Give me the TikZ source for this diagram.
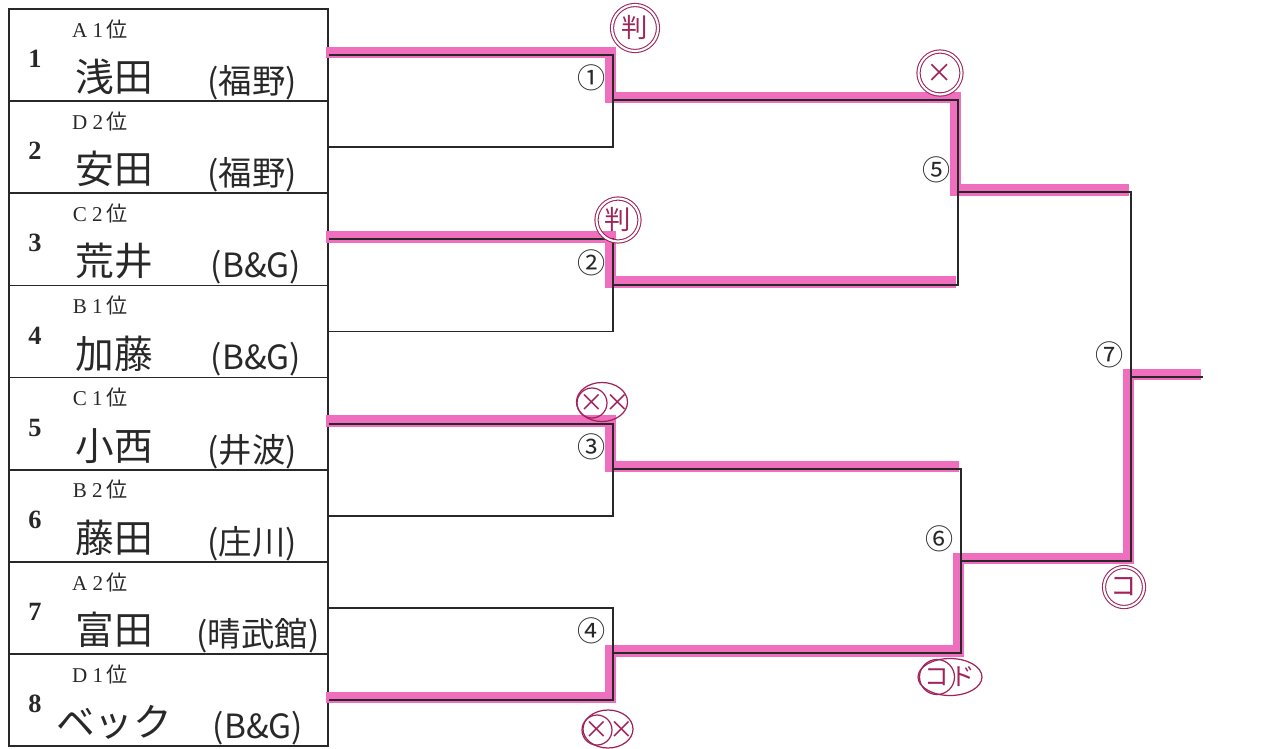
\documentclass[tikz,border=0pt]{standalone}
\usepackage{fontspec}
\setmainfont{Liberation Serif}
\newfontfamily\jp{Noto Sans CJK JP}
\usetikzlibrary{positioning,calc,shapes.geometric}
\definecolor{pen}{RGB}{40,40,40}
\definecolor{marker}{RGB}{240,110,190}
\definecolor{inkred}{RGB}{160,35,90}
\tikzset{
  player box/.style={draw=pen, line width=1pt, minimum width=6.38cm,
    minimum height=1.844cm, inner sep=0pt},
  seed/.style={font=\bfseries\fontsize{15}{15}\selectfont, text=pen},
  rank/.style={font=\fontsize{12}{12}\selectfont, text=pen, inner sep=0pt},
  entrant/.style={font=\jp\fontsize{22}{22}\selectfont, text=pen, inner sep=0pt},
  club/.style={font=\jp\fontsize{19}{19}\selectfont, text=pen, inner sep=0pt},
  bracket/.style={draw=pen, line width=1.1pt},
  winner/.style={draw=marker, line width=6.5pt,
    transform canvas={shift={(-0.05cm,0.05cm)}}},
  game no/.style={font=\jp\fontsize{16}{16}\selectfont, text=pen, inner sep=0pt},
}
\tikzset{
  judge/.style={draw=inkred, text=inkred, circle, line width=0.6pt,
    double=white, double distance=1.2pt, inner sep=0pt,
    minimum size=#1, font=\jp\fontsize{15}{15}\selectfont},
  judge oval/.style={draw=inkred, ellipse, line width=0.7pt, inner sep=0pt},
  judge ring/.style={draw=inkred, text=inkred, circle, line width=0.7pt,
    inner sep=0pt, minimum size=#1, font=\jp\fontsize{14}{14}\selectfont},
  judge text/.style={text=inkred, inner sep=0pt, font=\jp\fontsize{14}{14}\selectfont},
}
\begin{document}
\begin{tikzpicture}[x=0.02cm, y=-0.02cm, node distance=-1pt]
  \useasboundingbox (0,0) rectangle (1271,748);
  % entry boxes
  \node [player box, anchor=north west] (p1) at (8,8) {};
  \node [player box, below=of p1] (p2) {};
  \node [player box, below=of p2] (p3) {};
  \node [player box, below=of p3] (p4) {};
  \node [player box, below=of p4] (p5) {};
  \node [player box, below=of p5] (p6) {};
  \node [player box, below=of p6] (p7) {};
  \node [player box, below=of p7] (p8) {};
  % entries
  \node [seed] (s1) at ($(p1.north west)+(27,51)$) {1};
  \node [rank] (r1) at ($(p1.north west)+(92,21)$) {A 1\,{\jp 位}};
  \node [entrant] (n1) at ($(p1.north west)+(106,69)$) {浅田};
  \node [club] (c1) at ($(p1.north west)+(244,75)$) {(福野)};
  \node [seed] (s2) at ($(p2.north west)+(27,51)$) {2};
  \node [rank] (r2) at ($(p2.north west)+(92,21)$) {D 2\,{\jp 位}};
  \node [entrant] (n2) at ($(p2.north west)+(106,69)$) {安田};
  \node [club] (c2) at ($(p2.north west)+(244,75)$) {(福野)};
  \node [seed] (s3) at ($(p3.north west)+(27,51)$) {3};
  \node [rank] (r3) at ($(p3.north west)+(92,21)$) {C 2\,{\jp 位}};
  \node [entrant] (n3) at ($(p3.north west)+(106,69)$) {荒井};
  \node [club] (c3) at ($(p3.north west)+(248,75)$) {(B\&G)};
  \node [seed] (s4) at ($(p4.north west)+(27,51)$) {4};
  \node [rank] (r4) at ($(p4.north west)+(92,21)$) {B 1\,{\jp 位}};
  \node [entrant] (n4) at ($(p4.north west)+(106,69)$) {加藤};
  \node [club] (c4) at ($(p4.north west)+(248,75)$) {(B\&G)};
  \node [seed] (s5) at ($(p5.north west)+(27,51)$) {5};
  \node [rank] (r5) at ($(p5.north west)+(92,21)$) {C 1\,{\jp 位}};
  \node [entrant] (n5) at ($(p5.north west)+(106,69)$) {小西};
  \node [club] (c5) at ($(p5.north west)+(244,75)$) {(井波)};
  \node [seed] (s6) at ($(p6.north west)+(27,51)$) {6};
  \node [rank] (r6) at ($(p6.north west)+(92,21)$) {B 2\,{\jp 位}};
  \node [entrant] (n6) at ($(p6.north west)+(106,69)$) {藤田};
  \node [club] (c6) at ($(p6.north west)+(244,75)$) {(庄川)};
  \node [seed] (s7) at ($(p7.north west)+(27,51)$) {7};
  \node [rank] (r7) at ($(p7.north west)+(92,21)$) {A 2\,{\jp 位}};
  \node [entrant] (n7) at ($(p7.north west)+(106,69)$) {富田};
  \node [club] (c7) at ($(p7.north west)+(250,75)$) {(晴武館)};
  \node [seed] (s8) at ($(p8.north west)+(27,51)$) {8};
  \node [rank] (r8) at ($(p8.north west)+(92,21)$) {D 1\,{\jp 位}};
  \node [entrant] (n8) at ($(p8.north west)+(106,69)$) {ベック};
  \node [club] (c8) at ($(p8.north west)+(250,75)$) {(B\&G)};
  % match points
  \coordinate (m1) at (613,100);
  \coordinate (m2) at (613,284.6);
  \coordinate (m3) at (613,469);
  \coordinate (m4) at (613,653.4);
  \coordinate (m5) at (958,192.3);
  \coordinate (m6) at (961,561.2);
  \coordinate (m7) at (1131,376.8);
  \coordinate (champ) at (1203,376.8);
  % winners
  \draw [winner] (p1.east) -| (m1) -| (m5) -- (m5 -| m7);
  \draw [winner] (p3.east) -| (m2) -- (m2 -| m5);
  \draw [winner] (p5.east) -| (m3) -- (m3 -| m6);
  \draw [winner] (p8.east) -| (m4) -| (m6) -| (m7) -- (champ);
  % bracket
  \draw [bracket] (p1.east) -| (m1) |- (p2.east);
  \draw [bracket] (p3.east) -| (m2) |- (p4.east);
  \draw [bracket] (p5.east) -| (m3) |- (p6.east);
  \draw [bracket] (p7.east) -| (m4) |- (p8.east);
  \draw [bracket] (m1) -| (m5) |- (m2);
  \draw [bracket] (m3) -| (m6) |- (m4);
  \draw [bracket] (m5) -| (m7) |- (m6);
  \draw [bracket] (m7) -- (champ);
  % match numbers
  \node [game no, above left=5pt and 4pt of m1] (g1) {①};
  \node [game no, above left=5pt and 4pt of m2] (g2) {②};
  \node [game no, above left=5pt and 4pt of m3] (g3) {③};
  \node [game no, above left=5pt and 4pt of m4] (g4) {④};
  \node [game no, above left=5pt and 4pt of m5] (g5) {⑤};
  \node [game no, above left=5pt and 4pt of m6] (g6) {⑥};
  \node [game no, above left=5pt and 4pt of m7] (g7) {⑦};
  % referee marks
  \node [judge=0.92cm] (j1) at (635,28) {判};
  \node [judge=0.86cm] (j2) at (618,220) {判};
  \node [judge=0.86cm] (j5) at (940,73) {×};
  \node [judge oval, minimum width=1.02cm, minimum height=0.78cm] (j3) at (602,402) {};
  \node [judge ring=0.6cm] (j3a) at (592,403) {×};
  \node [judge text] (j3b) at (618,403) {×};
  \node [judge oval, minimum width=1.0cm, minimum height=0.76cm] (j4) at (608,729) {};
  \node [judge ring=0.6cm] (j4a) at (597,730) {×};
  \node [judge text] (j4b) at (622,730) {×};
  \node [judge oval, minimum width=1.28cm, minimum height=0.74cm] (j6) at (950,677) {};
  \node [judge ring=0.7cm] (j6a) at (937,677) {コ};
  \node [judge text] (j6b) at (963,677) {ド};
  \node [judge=0.8cm] (j7) at (1124,587) {コ};
\end{tikzpicture}
\end{document}
